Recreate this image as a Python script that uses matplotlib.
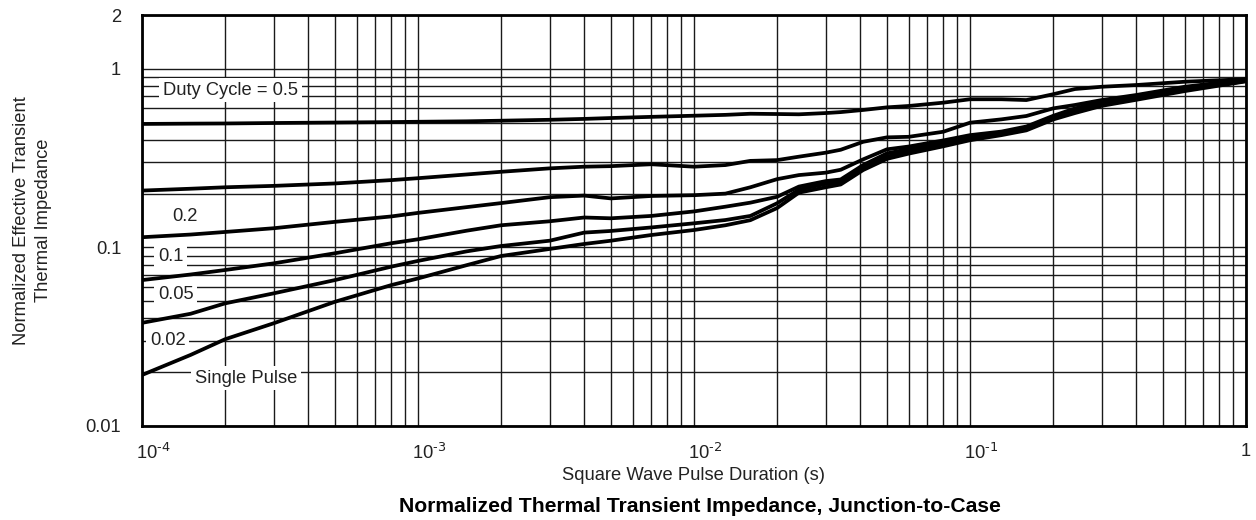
import matplotlib
matplotlib.use("Agg")
import matplotlib.pyplot as plt
from matplotlib.ticker import FixedLocator, NullFormatter, LogLocator
from matplotlib.transforms import ScaledTranslation

plt.rcParams['font.family'] = ['Liberation Sans', 'DejaVu Sans']
plt.rcParams['mathtext.default'] = 'regular'

# ---- data ----
pulse_duration = [1e-4, 1.5e-4, 2e-4, 3e-4, 5e-4, 8e-4, 1e-3, 1.5e-3, 2e-3, 3e-3,
                  4e-3, 5e-3, 7e-3, 1e-2, 1.3e-2, 1.6e-2, 2e-2, 2.4e-2, 3e-2, 3.4e-2,
                  4.1e-2, 5e-2, 6e-2, 8e-2, 0.1, 0.13, 0.16, 0.2, 0.24, 0.3, 0.4, 0.6, 1.0]

duty_05 = [0.491, 0.493, 0.494, 0.497, 0.500, 0.503, 0.505, 0.508, 0.512, 0.518,
           0.524, 0.530, 0.538, 0.546, 0.552, 0.560, 0.558, 0.556, 0.565, 0.572,
           0.588, 0.608, 0.619, 0.646, 0.675, 0.675, 0.668, 0.720, 0.770, 0.793, 0.811, 0.846, 0.875]
duty_02 = [0.208, 0.213, 0.217, 0.221, 0.228, 0.238, 0.244, 0.256, 0.265, 0.277,
           0.283, 0.285, 0.292, 0.283, 0.289, 0.305, 0.308, 0.322, 0.339, 0.352,
           0.390, 0.413, 0.416, 0.444, 0.499, 0.521, 0.544, 0.600, 0.627, 0.668, 0.713, 0.793, 0.870]
duty_01 = [0.114, 0.118, 0.122, 0.128, 0.139, 0.149, 0.156, 0.168, 0.177, 0.191,
           0.195, 0.188, 0.194, 0.196, 0.200, 0.217, 0.241, 0.254, 0.262, 0.272,
           0.311, 0.354, 0.367, 0.397, 0.425, 0.445, 0.475, 0.545, 0.600, 0.650, 0.700, 0.780, 0.865]
duty_005 = [0.0656, 0.0705, 0.0747, 0.0814, 0.0927, 0.1055, 0.111, 0.124, 0.133, 0.140,
            0.147, 0.1455, 0.150, 0.159, 0.169, 0.178, 0.192, 0.219, 0.235, 0.240,
            0.289, 0.336, 0.355, 0.385, 0.415, 0.440, 0.465, 0.535, 0.585, 0.640, 0.690, 0.770, 0.860]
duty_002 = [0.0378, 0.0425, 0.0486, 0.0553, 0.0656, 0.078, 0.084, 0.095, 0.1018, 0.109,
            0.121, 0.1236, 0.1293, 0.1364, 0.1423, 0.150, 0.1766, 0.2105, 0.2264, 0.232,
            0.2808, 0.322, 0.345, 0.375, 0.405, 0.432, 0.458, 0.528, 0.575, 0.630, 0.680, 0.760, 0.855]
single_pulse = [0.0193, 0.0250, 0.0306, 0.0376, 0.0496, 0.0615, 0.0670, 0.0795, 0.0895, 0.0980,
                0.1045, 0.109, 0.1173, 0.1251, 0.133, 0.142, 0.166, 0.2025, 0.217, 0.225,
                0.271, 0.313, 0.335, 0.368, 0.398, 0.425, 0.452, 0.520, 0.565, 0.620, 0.670, 0.750, 0.850]

series = [duty_05, duty_02, duty_01, duty_005, duty_002, single_pulse]

x_tick_values = [1e-4, 1e-3, 1e-2, 1e-1, 1]
x_tick_labels = [r'10$^{\text{-4}}$', r'10$^{\text{-3}}$', r'10$^{\text{-2}}$', r'10$^{\text{-1}}$', '1']
y_tick_values = [0.01, 0.1, 1, 2]
y_tick_labels = ['0.01', '0.1', '1', '2']

curve_labels = ['Duty Cycle = 0.5', '0.2', '0.1', '0.05', '0.02', 'Single Pulse']
label_pos = [(1.19e-4, 0.760), (1.285e-4, 0.1498), (1.143e-4, 0.0894), (1.143e-4, 0.0548),
             (1.069e-4, 0.0303), (1.556e-4, 0.01855)]
label_box = [True, False, True, True, True, True]

FS = 13.2

fig = plt.figure(figsize=(12.56, 5.20), dpi=100)
ax = fig.add_axes([142 / 1256, 94 / 520, 1104 / 1256, 411 / 520])

ax.set_xscale('log')
ax.set_yscale('log')
ax.set_xlim(1e-4, 1)
ax.set_ylim(0.01, 2)

for s in series:
    ax.plot(pulse_duration, s, color='black', lw=2.7, solid_joinstyle='round',
            solid_capstyle='butt', zorder=5)

# grid
ax.xaxis.set_major_locator(FixedLocator(x_tick_values))
ax.xaxis.set_minor_locator(LogLocator(base=10, subs=range(2, 10), numticks=20))
ax.xaxis.set_minor_formatter(NullFormatter())
ax.set_xticklabels(x_tick_labels)
ax.yaxis.set_major_locator(FixedLocator(y_tick_values))
ax.yaxis.set_minor_locator(FixedLocator([k * 0.01 for k in range(2, 10)] + [k * 0.1 for k in range(2, 10)]))
ax.yaxis.set_minor_formatter(NullFormatter())
ax.set_yticklabels(y_tick_labels)
ax.grid(True, which='both', color='#1a1a1a', lw=1.0)
ax.set_axisbelow(True)
ax.tick_params(which='both', length=0, labelsize=FS, colors='#222222')
ax.tick_params(axis='x', pad=12)
ax.tick_params(axis='y', pad=15)
for sp in ax.spines.values():
    sp.set_linewidth(2.0)
    sp.set_color('black')
    sp.set_zorder(6)

shift = ScaledTranslation(11 / 100, 0, fig.dpi_scale_trans)
for lbl in ax.get_xticklabels()[:-1]:
    lbl.set_transform(lbl.get_transform() + shift)

for lab, (lx, ly), boxed in zip(curve_labels, label_pos, label_box):
    kw = dict(boxstyle='square,pad=0.2', fc='white', ec='none') if boxed else None
    ax.text(lx, ly, lab, fontsize=FS, ha='left', va='center', color='#222222',
            bbox=kw, zorder=4)

ax.set_xlabel('Square Wave Pulse Duration (s)', fontsize=FS, color='#222222', labelpad=3)
ax.set_ylabel('Normalized Effective Transient\nThermal Impedance', fontsize=FS,
              color='#222222', labelpad=24, linespacing=1.4)
fig.text(700 / 1256, 1 - 506 / 520, 'Normalized Thermal Transient Impedance, Junction-to-Case',
         fontsize=15.2, fontweight='bold', ha='center', va='center', color='black')

fig.savefig('out.png', dpi=100, facecolor='white')
